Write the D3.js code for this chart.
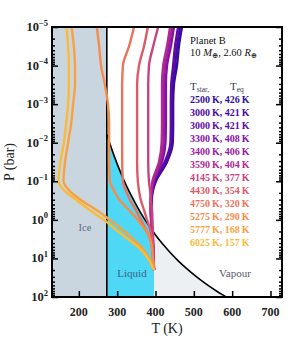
<!DOCTYPE html>
<html>
<head>
<meta charset="utf-8">
<script src="https://cdn.jsdelivr.net/npm/d3@7"></script>
<style>
  body { margin: 0; background: #fff; }
  svg { display: block; font-family: "Liberation Serif", "DejaVu Serif", serif; }
</style>
</head>
<body>
<div class="ptchart"></div>
<script>
'use strict';

// pressure levels shared by every profile (bar)
var pressure = [1e-5, 3.16e-5, 1e-4, 3.16e-4, 1e-3, 3.16e-3, 1e-2, 3.16e-2, 0.1, 0.178, 0.316, 0.562, 1, 1.78, 3.16, 5.62, 10, 20];

// temperature profiles (K), one per star
var t2500  = [469, 461, 456, 448, 446, 446, 445, 430, 401, 393, 390, 389, 390, 391, 393, 394, 395, 396];
var t3000a = [464, 456, 451, 444, 443, 443, 442, 427, 399, 392, 389, 389, 390, 391, 392, 394, 395, 396];
var t3000b = [459, 451, 446, 441, 440, 440, 439, 424, 397, 391, 388, 388, 389, 390, 392, 393, 395, 396];
var t3300  = [448, 440, 430, 427, 427, 427, 426, 417, 396, 391, 389, 389, 390, 391, 392, 394, 395, 396];
var t3400  = [443, 435, 425, 422, 422, 422, 421, 413, 394, 390, 388, 388, 389, 390, 392, 393, 394, 396];
var t3590  = [438, 430, 420, 417, 417, 417, 416, 409, 392, 389, 387, 387, 388, 389, 391, 393, 394, 396];
var t4145  = [407, 394, 383, 381, 381, 381, 381, 381, 383, 386, 388, 391, 392, 393, 394, 395, 395, 396];
var t4430  = [380, 370, 357, 352, 352, 352, 352, 352, 354, 357, 362, 370, 378, 386, 391, 393, 394, 396];
var t4750  = [344, 331, 315, 313, 313, 313, 313, 313, 315, 323, 334, 349, 362, 375, 386, 391, 393, 396];
var t5275  = [247, 253, 258, 268, 276, 279, 279, 279, 281, 292, 307, 331, 354, 373, 386, 391, 393, 396];
var t5777  = [181, 187, 190, 190, 185, 180, 172, 164, 160, 176, 207, 247, 281, 313, 341, 367, 383, 396];
var t6025  = [168, 172, 174, 174, 172, 167, 161, 152, 147, 163, 195, 229, 266, 296, 328, 360, 380, 396];

var profiles = [t2500, t3000a, t3000b, t3300, t3400, t3590, t4145, t4430, t4750, t5275, t5777, t6025];
var starTemps = [2500, 3000, 3000, 3300, 3400, 3590, 4145, 4430, 4750, 5275, 5777, 6025];
var eqTemps   = [426, 421, 421, 408, 406, 404, 377, 354, 320, 290, 168, 157];

// water saturation curve (K, bar)
var satT = [273, 280, 290, 300, 310, 320, 330, 340, 350, 360, 373, 380, 390, 396, 400, 420, 440, 460, 480, 500, 520, 540, 560, 580, 600];
var satP = [0.0061, 0.0099, 0.0192, 0.0354, 0.0624, 0.106, 0.172, 0.271, 0.417, 0.622, 1.013, 1.29, 1.79, 2.17, 2.46, 4.37, 7.33, 11.7, 17.9, 26.4, 37.7, 52.4, 71.1, 94.4, 125];

var freezeT = 273;
var liquidMaxT = 396;

var xTicks = [200, 300, 400, 500, 600, 700];
var decades = [-5, -4, -3, -2, -1, 0, 1, 2];

var colors = ["#2f0f9c", "#4b0aa3", "#5e0ba6", "#8510a6", "#9a1ca0", "#b12a93",
              "#c8437f", "#dc5b6b", "#ec735a", "#f58c4a", "#f9a13e", "#fbbb36"];

var width = 307, height = 338;
var margin = {top: 27, right: 25, bottom: 41, left: 52};

var x = d3.scaleLinear().domain([130, 730]).range([margin.left, width - margin.right]);
var y = d3.scaleLog().domain([1e-5, 100]).range([margin.top, height - margin.bottom]);

var svg = d3.select(".ptchart")
            .append("svg")
            .attr("width", width)
            .attr("height", height);

svg.append("clipPath").attr("id", "plotclip")
   .append("rect")
   .attr("x", x.range()[0]).attr("y", y.range()[0])
   .attr("width", x.range()[1] - x.range()[0])
   .attr("height", y.range()[1] - y.range()[0]);

var plot = svg.append("g").attr("clip-path", "url(#plotclip)");

// saturation points as objects
var sat = satT.map(function(t, i){ return {t: t, p: satP[i]}; });

// ice region
plot.append("rect")
    .attr("x", x(130)).attr("y", y(1e-5))
    .attr("width", x(freezeT) - x(130))
    .attr("height", y(100) - y(1e-5))
    .attr("fill", "#c9d6df");

var area = d3.area()
             .x(function(d){ return x(d.t); })
             .y0(y(100))
             .y1(function(d){ return y(d.p); });

// vapour side below the curve
plot.append("path")
    .datum(sat.filter(function(d){ return d.t >= liquidMaxT; }))
    .attr("d", area)
    .attr("fill", "#edf0f3");

// liquid
plot.append("path")
    .datum(sat.filter(function(d){ return d.t <= liquidMaxT; }))
    .attr("d", area)
    .attr("fill", "#4fd8f5");

// freezing line
plot.append("line")
    .attr("x1", x(freezeT)).attr("x2", x(freezeT))
    .attr("y1", y(1e-5)).attr("y2", y(100))
    .attr("stroke", "#000").attr("stroke-width", 1.6);

// boiling curve
plot.append("path")
    .datum(sat)
    .attr("d", d3.line().x(function(d){ return x(d.t); }).y(function(d){ return y(d.p); }).curve(d3.curveMonotoneX))
    .attr("fill", "none")
    .attr("stroke", "#000")
    .attr("stroke-width", 1.6);

// region labels
plot.append("text").attr("x", 85).attr("y", 231).attr("text-anchor", "middle")
    .attr("font-size", 10.5).attr("fill", "#5f6f80").text("Ice");
plot.append("text").attr("x", 132).attr("y", 277).attr("text-anchor", "middle")
    .attr("font-size", 11).attr("fill", "#3b6585").text("Liquid");
plot.append("text").attr("x", 235).attr("y", 277).attr("text-anchor", "middle")
    .attr("font-size", 11).attr("fill", "#55556e").text("Vapour");

// profiles
var profileLine = d3.line()
                    .x(function(d){ return x(d[0]); })
                    .y(function(d){ return y(d[1]); })
                    .curve(d3.curveMonotoneY);

profiles.forEach(function(temps, i){
      var pts = temps.map(function(t, j){ return [t, pressure[j]]; });
      plot.append("path")
          .datum(pts)
          .attr("d", profileLine)
          .attr("fill", "none")
          .attr("stroke", colors[i])
          .attr("stroke-width", 2.4)
          .attr("stroke-linejoin", "round");
});

// axes, ticks point inward
var minors = [];
decades.slice(0, -1).forEach(function(e){
      for (var k = 2; k < 10; k++) minors.push(k * Math.pow(10, e));
});
var majors = decades.map(function(e){ return Math.pow(10, e); });

function styleAxis(g){
      g.select(".domain").remove();
      g.selectAll("line").attr("stroke", "#000").attr("stroke-width", 1.5);
}

svg.append("g").attr("transform", "translate(" + x.range()[0] + ",0)")
   .call(d3.axisLeft(y).tickValues(majors).tickSize(-6).tickFormat("")).call(styleAxis);
svg.append("g").attr("transform", "translate(" + x.range()[0] + ",0)")
   .call(d3.axisLeft(y).tickValues(minors).tickSize(-3).tickFormat("")).call(styleAxis);
svg.append("g").attr("transform", "translate(" + x.range()[1] + ",0)")
   .call(d3.axisRight(y).tickValues(majors).tickSize(-6).tickFormat("")).call(styleAxis);
svg.append("g").attr("transform", "translate(" + x.range()[1] + ",0)")
   .call(d3.axisRight(y).tickValues(minors).tickSize(-3).tickFormat("")).call(styleAxis);
svg.append("g").attr("transform", "translate(0," + y.range()[1] + ")")
   .call(d3.axisBottom(x).tickValues(xTicks).tickSize(-6).tickFormat("")).call(styleAxis);

// y tick labels with superscripts
decades.forEach(function(e){
      var t = svg.append("text")
                 .attr("x", 48).attr("y", y(Math.pow(10, e)) + 4)
                 .attr("text-anchor", "end")
                 .attr("font-size", 12.5).attr("font-weight", "bold").attr("fill", "#222");
      t.append("tspan").text("10");
      t.append("tspan").attr("dy", -5.5).attr("font-size", 8.5)
       .text(e < 0 ? "\u2212" + (-e) : String(e));
});

// x tick labels
xTicks.forEach(function(v){
      svg.append("text")
         .attr("x", x(v)).attr("y", 316)
         .attr("text-anchor", "middle")
         .attr("font-size", 12).attr("font-weight", "bold").attr("fill", "#222")
         .text(v);
});

// axis titles
svg.append("text").attr("x", (x.range()[0] + x.range()[1]) / 2).attr("y", 333)
   .attr("text-anchor", "middle").attr("font-size", 14).attr("fill", "#222").text("T (K)");
svg.append("text")
   .attr("transform", "translate(14," + ((y.range()[0] + y.range()[1]) / 2) + ") rotate(-90)")
   .attr("text-anchor", "middle").attr("font-size", 14).attr("fill", "#222").text("P (bar)");

// planet annotation
svg.append("text").attr("x", 190).attr("y", 44).attr("font-size", 10.5).attr("fill", "#111").text("Planet B");
var sub = svg.append("text").attr("x", 190).attr("y", 56).attr("font-size", 10.5).attr("fill", "#111");
sub.append("tspan").text("10 ");
sub.append("tspan").attr("font-style", "italic").text("M");
sub.append("tspan").attr("font-size", 7.5).attr("dy", 1.5).text("\u2295");
sub.append("tspan").attr("dy", -1.5).text(", 2.60 ");
sub.append("tspan").attr("font-style", "italic").text("R");
sub.append("tspan").attr("font-size", 7.5).attr("dy", 1.5).text("\u2295");

// legend header
var hdr = svg.append("text").attr("x", 190).attr("y", 90).attr("font-size", 11).attr("fill", "#3a3a5a");
hdr.append("tspan").text("T");
hdr.append("tspan").attr("font-size", 7.5).attr("dy", 2).text("star,");
var hdr2 = svg.append("text").attr("x", 230).attr("y", 90).attr("font-size", 11).attr("fill", "#3a3a5a");
hdr2.append("tspan").text("T");
hdr2.append("tspan").attr("font-size", 7.5).attr("dy", 2).text("eq");

// legend rows
starTemps.forEach(function(s, i){
      svg.append("text")
         .attr("x", 190).attr("y", 103 + 13 * i)
         .attr("font-size", 10).attr("font-weight", "bold")
         .attr("fill", colors[i])
         .text(s + "\u2009K, " + eqTemps[i] + "\u2009K");
});

// frame
svg.append("rect")
   .attr("x", x.range()[0]).attr("y", y.range()[0])
   .attr("width", x.range()[1] - x.range()[0])
   .attr("height", y.range()[1] - y.range()[0])
   .attr("fill", "none").attr("stroke", "#000").attr("stroke-width", 2);
</script>
</body>
</html>
